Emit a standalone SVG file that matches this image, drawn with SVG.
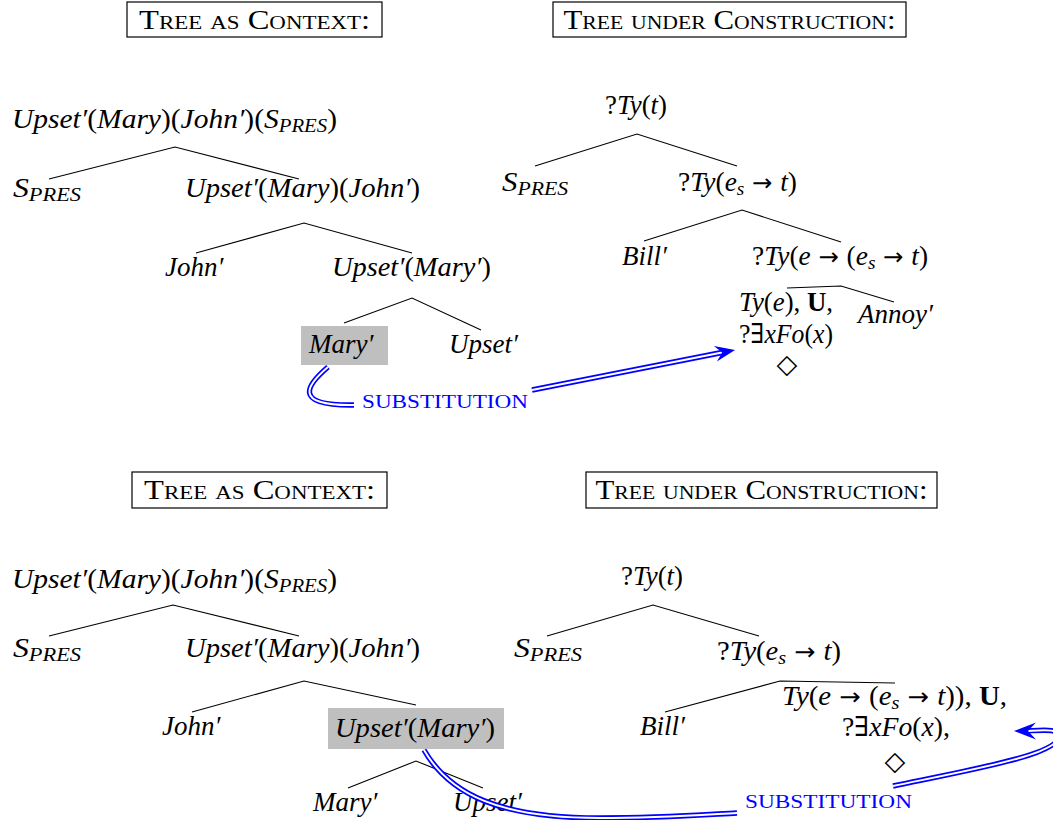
<svg xmlns="http://www.w3.org/2000/svg" xmlns:xlink="http://www.w3.org/1999/xlink" width="1053" height="820" viewBox="0 0 1053 820">
<style>
.m{font-family:"Liberation Serif","DejaVu Serif",serif;font-size:27px;font-style:italic;fill:#000}
.r{font-style:normal}
.ar{font-style:normal;font-family:"DejaVu Sans",sans-serif;font-size:24px}
.b{font-style:normal;font-weight:bold}
.s{font-size:19px}
.t{font-family:"Liberation Serif","DejaVu Serif",serif;font-size:27px;font-variant:small-caps;text-anchor:middle;fill:#000}
.sub{font-family:"Liberation Serif","DejaVu Serif",serif;font-size:19px;fill:#0000ff}
.dia{font-family:"DejaVu Sans",sans-serif;font-size:27px;text-anchor:middle;fill:#000}
.box{fill:none;stroke:#000;stroke-width:1.2}
.hl{fill:#bfbfbf}
.e{stroke:#000;stroke-width:1.1;fill:none}
.dbo{stroke:#0000ff;stroke-width:5.4;fill:none}
.dbi{stroke:#fff;stroke-width:1.9;fill:none}
.ah{fill:#0000ff}
</style>
<defs>
<path id="pA" d="M 328 367 C 308 384 290 406 354 405"/>
<path id="pB" d="M 532 390 L 722 352.5"/>
<path id="pC" d="M 424 750 C 450 795 500 818 600 818 C 660 818 700 815 737 813"/>
<path id="pD" d="M 893 786 C 970 770 1055 755 1058 738 C 1060 728 1045 730 1026 731"/>
</defs>

<g id="titles">
<g id="title-tl"><rect class="box" x="127" y="2" width="255" height="35"/><text class="t" x="254.5" y="29" textLength="231" lengthAdjust="spacingAndGlyphs">Tree as Context:</text></g>
<g id="title-tr"><rect class="box" x="553" y="2" width="353" height="35"/><text class="t" x="729.5" y="29" textLength="332" lengthAdjust="spacingAndGlyphs">Tree under Construction:</text></g>
<g id="title-bl"><rect class="box" x="132" y="472" width="255" height="36"/><text class="t" x="259.5" y="499" textLength="231" lengthAdjust="spacingAndGlyphs">Tree as Context:</text></g>
<g id="title-br"><rect class="box" x="586" y="472" width="351" height="36"/><text class="t" x="761.5" y="499" textLength="332" lengthAdjust="spacingAndGlyphs">Tree under Construction:</text></g>
</g>

<g id="edges">
<path class="e" d="M 49 179 L 175 147 L 299 179"/>
<path class="e" d="M 196 253 L 304 223 L 412 253"/>
<path class="e" d="M 344 323 L 412 298 L 481 330"/>
<path class="e" d="M 535 166 L 637 134 L 737 166"/>
<path class="e" d="M 644 241 L 742 210 L 841 242"/>
<path class="e" d="M 787 288 L 841 286 L 894 302"/>
<path class="e" d="M 49 636 L 173 605 L 299 636"/>
<path class="e" d="M 192 712 L 304 681 L 416 705"/>
<path class="e" d="M 348 788 L 416 761 L 483 788"/>
<path class="e" d="M 547 636 L 653 605 L 759 636"/>
<path class="e" d="M 665 712 L 780 681 L 895 683"/>
</g>

<g id="n-tl-root"><text class="m" x="12" y="128" textLength="325" lengthAdjust="spacingAndGlyphs">Upset′<tspan class="r">(</tspan>Mary<tspan class="r">)(</tspan>John′<tspan class="r">)(</tspan>S<tspan class="s" dy="4">PRES</tspan><tspan class="r" dy="-4">)</tspan></text></g>
<g id="n-tl-spres"><text class="m" x="13" y="197" textLength="68" lengthAdjust="spacingAndGlyphs">S<tspan class="s" dy="4">PRES</tspan></text></g>
<g id="n-tl-umj"><text class="m" x="185" y="197" textLength="235" lengthAdjust="spacingAndGlyphs">Upset′<tspan class="r">(</tspan>Mary<tspan class="r">)(</tspan>John′<tspan class="r">)</tspan></text></g>
<g id="n-tl-john"><text class="m" x="165" y="276">John′</text></g>
<g id="n-tl-um"><text class="m" x="332" y="276" textLength="159" lengthAdjust="spacingAndGlyphs">Upset′<tspan class="r">(</tspan>Mary′<tspan class="r">)</tspan></text></g>
<g id="n-tl-mary"><rect class="hl" x="301" y="326" width="87" height="39"/><text class="m" x="309" y="353">Mary′</text></g>
<g id="n-tl-upset"><text class="m" x="449" y="353">Upset′</text></g>

<g id="n-tr-root"><text class="m" x="605" y="114" textLength="62" lengthAdjust="spacingAndGlyphs"><tspan class="r">?</tspan>Ty<tspan class="r">(</tspan>t<tspan class="r">)</tspan></text></g>
<g id="n-tr-spres"><text class="m" x="502" y="191" textLength="66" lengthAdjust="spacingAndGlyphs">S<tspan class="s" dy="4">PRES</tspan></text></g>
<g id="n-tr-est"><text class="m" x="678" y="191" textLength="119" lengthAdjust="spacingAndGlyphs"><tspan class="r">?</tspan>Ty<tspan class="r">(</tspan>e<tspan class="s" dy="4">s</tspan><tspan class="ar" dy="-4"> → </tspan>t<tspan class="r">)</tspan></text></g>
<g id="n-tr-bill"><text class="m" x="622" y="265">Bill′</text></g>
<g id="n-tr-eest"><text class="m" x="752" y="265" textLength="176" lengthAdjust="spacingAndGlyphs"><tspan class="r">?</tspan>Ty<tspan class="r">(</tspan>e<tspan class="ar"> → </tspan><tspan class="r">(</tspan>e<tspan class="s" dy="4">s</tspan><tspan class="ar" dy="-4"> → </tspan>t<tspan class="r">)</tspan></text></g>
<g id="n-tr-tye"><text class="m" x="739" y="311" textLength="94" lengthAdjust="spacingAndGlyphs">Ty<tspan class="r">(</tspan>e<tspan class="r">), </tspan><tspan class="b">U</tspan><tspan class="r">,</tspan></text><text class="m" x="739" y="343" textLength="94" lengthAdjust="spacingAndGlyphs"><tspan class="r">?∃</tspan>xFo<tspan class="r">(</tspan>x<tspan class="r">)</tspan></text><text class="dia" x="787" y="373">◇</text></g>
<g id="n-tr-annoy"><text class="m" x="858" y="323">Annoy′</text></g>

<g id="n-bl-root"><text class="m" x="12" y="588" textLength="325" lengthAdjust="spacingAndGlyphs">Upset′<tspan class="r">(</tspan>Mary<tspan class="r">)(</tspan>John′<tspan class="r">)(</tspan>S<tspan class="s" dy="4">PRES</tspan><tspan class="r" dy="-4">)</tspan></text></g>
<g id="n-bl-spres"><text class="m" x="13" y="657" textLength="68" lengthAdjust="spacingAndGlyphs">S<tspan class="s" dy="4">PRES</tspan></text></g>
<g id="n-bl-umj"><text class="m" x="185" y="657" textLength="235" lengthAdjust="spacingAndGlyphs">Upset′<tspan class="r">(</tspan>Mary<tspan class="r">)(</tspan>John′<tspan class="r">)</tspan></text></g>
<g id="n-bl-john"><text class="m" x="162" y="735">John′</text></g>
<g id="n-bl-um"><rect class="hl" x="328" y="708" width="176" height="41"/><text class="m" x="335" y="737" textLength="160" lengthAdjust="spacingAndGlyphs">Upset′<tspan class="r">(</tspan>Mary′<tspan class="r">)</tspan></text></g>
<g id="n-bl-mary"><text class="m" x="313" y="811">Mary′</text></g>
<g id="n-bl-upset"><text class="m" x="453" y="811">Upset′</text></g>

<g id="n-br-root"><text class="m" x="621" y="585" textLength="62" lengthAdjust="spacingAndGlyphs"><tspan class="r">?</tspan>Ty<tspan class="r">(</tspan>t<tspan class="r">)</tspan></text></g>
<g id="n-br-spres"><text class="m" x="514" y="657" textLength="68" lengthAdjust="spacingAndGlyphs">S<tspan class="s" dy="4">PRES</tspan></text></g>
<g id="n-br-est"><text class="m" x="717" y="660" textLength="124" lengthAdjust="spacingAndGlyphs"><tspan class="r">?</tspan>Ty<tspan class="r">(</tspan>e<tspan class="s" dy="4">s</tspan><tspan class="ar" dy="-4"> → </tspan>t<tspan class="r">)</tspan></text></g>
<g id="n-br-bill"><text class="m" x="640" y="735">Bill′</text></g>
<g id="n-br-ty"><text class="m" x="782" y="705" textLength="225" lengthAdjust="spacingAndGlyphs">Ty<tspan class="r">(</tspan>e<tspan class="ar"> → </tspan><tspan class="r">(</tspan>e<tspan class="s" dy="4">s</tspan><tspan class="ar" dy="-4"> → </tspan>t<tspan class="r">)), </tspan><tspan class="b">U</tspan><tspan class="r">,</tspan></text><text class="m" x="842" y="736" textLength="108" lengthAdjust="spacingAndGlyphs"><tspan class="r">?∃</tspan>xFo<tspan class="r">(</tspan>x<tspan class="r">),</tspan></text><text class="dia" x="895" y="770">◇</text></g>

<g id="connectors">
<g id="sub-top">
<use xlink:href="#pA" class="dbo"/><use xlink:href="#pA" class="dbi"/>
<use xlink:href="#pB" class="dbo"/><use xlink:href="#pB" class="dbi"/>
<polygon class="ah" points="735,350 713.9,346 722.2,352.5 716.9,361.6"/>
<text class="sub" x="362" y="408" textLength="166" lengthAdjust="spacingAndGlyphs">SUBSTITUTION</text>
</g>
<g id="sub-bottom">
<use xlink:href="#pC" class="dbo"/><use xlink:href="#pC" class="dbi"/>
<use xlink:href="#pD" class="dbo"/><use xlink:href="#pD" class="dbi"/>
<polygon class="ah" points="1014,731 1036,722.5 1028,731 1036,739.5"/>
<text class="sub" x="745" y="808" textLength="167" lengthAdjust="spacingAndGlyphs">SUBSTITUTION</text>
</g>
</g>
</svg>
